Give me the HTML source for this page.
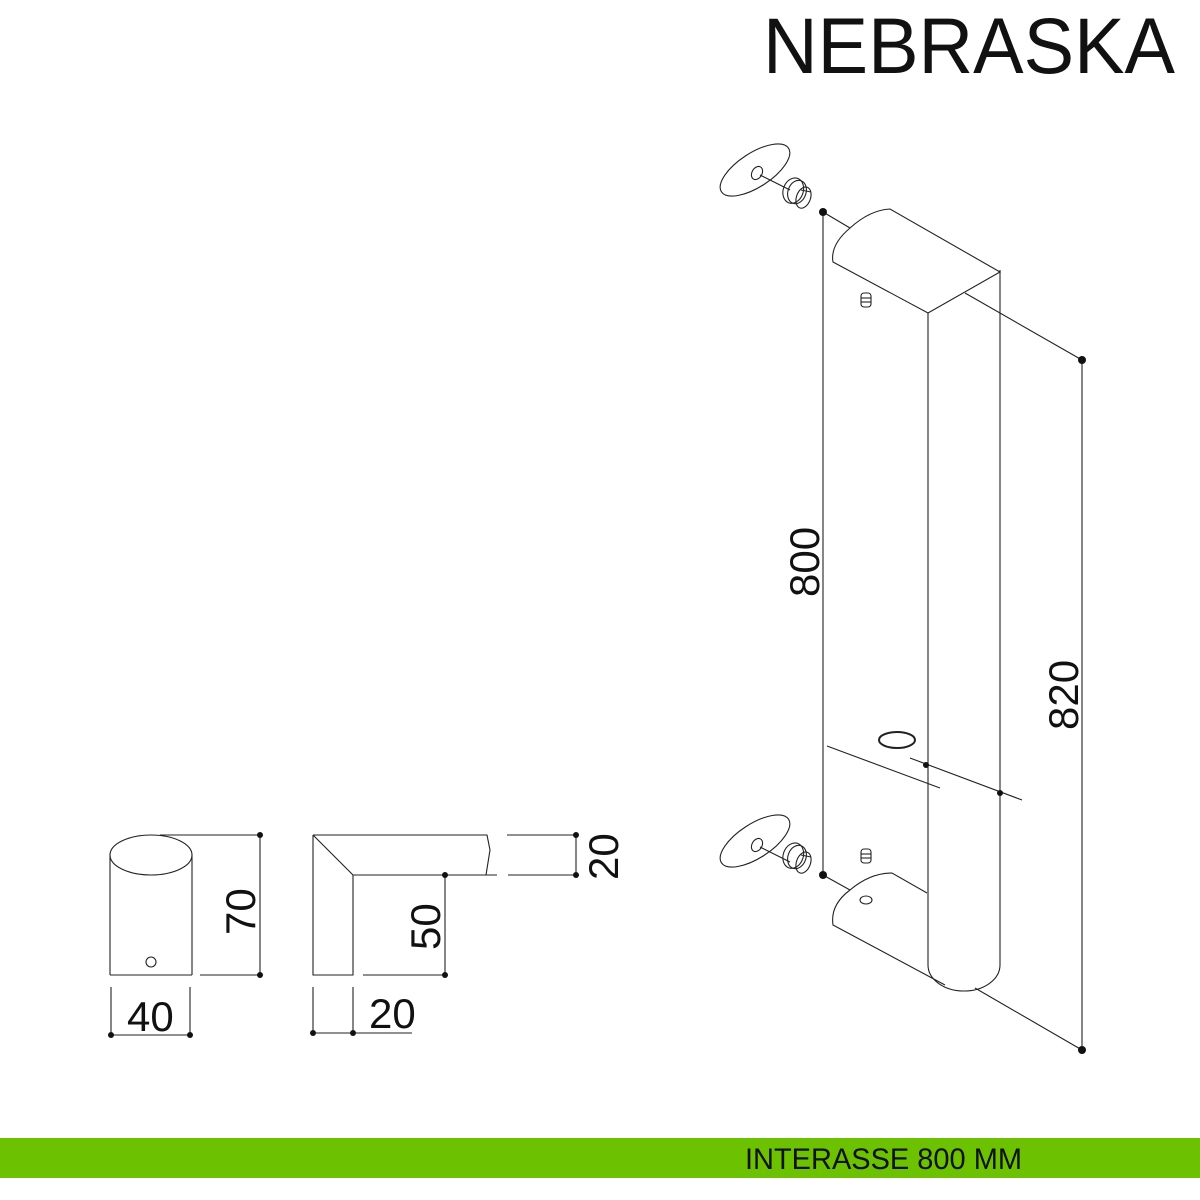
<!DOCTYPE html>
<html><head><meta charset="utf-8"><style>
html,body{margin:0;padding:0;background:#fff}
svg{display:block}
text{font-family:"Liberation Sans",sans-serif;fill:#111}
</style></head><body>
<svg width="1200" height="1200" viewBox="0 0 1200 1200" xmlns="http://www.w3.org/2000/svg">
<text x="763" y="73" font-size="79" textLength="412" lengthAdjust="spacingAndGlyphs">NEBRASKA</text>
<rect x="0" y="1138" width="1200" height="40" fill="#6cc200"/>
<text x="745" y="1169" font-size="30" textLength="277" lengthAdjust="spacingAndGlyphs">INTERASSE 800 MM</text>

<g fill="none" stroke="#222" stroke-width="1.1">
<!-- handle top cap -->
<path d="M850,228 Q830,245 833,262 L928,313 L1000,272 L890,209 Q870,210 850,228"/>
<line x1="928" y1="313" x2="928" y2="965"/>
<line x1="1000" y1="270" x2="1000" y2="965"/>
<path d="M928,965 A36,26 0 0 0 1000,965"/>
<!-- bottom cap -->
<path d="M927,893 L892,873 Q870,873 850,890 Q830,905 833,925 L945,985"/>
<ellipse cx="866" cy="900" rx="6" ry="4"/>
<!-- dimension lines -->
<line x1="823" y1="212" x2="823" y2="875"/>
<line x1="823" y1="212" x2="850" y2="228"/>
<line x1="965" y1="293" x2="1082" y2="360"/>
<line x1="1082" y1="360" x2="1082" y2="1050"/>
<line x1="975" y1="988" x2="1082" y2="1050"/>
<line x1="823" y1="875" x2="850" y2="890"/>
<line x1="827" y1="746" x2="940" y2="788"/>
<line x1="910" y1="758" x2="1022" y2="800"/>
<ellipse cx="897" cy="740" rx="18" ry="8" stroke-width="2"/>
<!-- washers -->
<ellipse cx="755" cy="170" rx="40" ry="17" transform="rotate(-33 755 170)"/>
<ellipse cx="757" cy="173" rx="5" ry="7" transform="rotate(30 757 173)"/>
<line x1="760" y1="175" x2="790" y2="190"/>
<ellipse cx="755" cy="841" rx="40" ry="17" transform="rotate(-33 755 841)"/>
<ellipse cx="757" cy="845" rx="5" ry="7" transform="rotate(30 757 845)"/>
<line x1="760" y1="847" x2="790" y2="862"/>
<!-- bushings -->
<g transform="translate(797,192)"><ellipse cx="-4" cy="0" rx="10" ry="13" transform="rotate(20)"/><ellipse cx="0" cy="0" rx="9" ry="12" transform="rotate(20)"/><ellipse cx="8" cy="3" rx="7" ry="11" transform="rotate(20)"/><line x1="4" y1="-2" x2="14" y2="0"/></g>
<g transform="translate(797,857)"><ellipse cx="-4" cy="0" rx="10" ry="13" transform="rotate(20)"/><ellipse cx="0" cy="0" rx="9" ry="12" transform="rotate(20)"/><ellipse cx="8" cy="3" rx="7" ry="11" transform="rotate(20)"/><line x1="4" y1="-2" x2="14" y2="0"/></g>
<!-- grub screws -->
<g transform="translate(866,300)"><rect x="-5" y="-7" width="10" height="14" rx="3"/><line x1="-5" y1="-2" x2="5" y2="-2"/><line x1="-5" y1="2" x2="5" y2="2"/></g>
<g transform="translate(866,856)"><rect x="-5" y="-7" width="10" height="14" rx="3"/><line x1="-5" y1="-2" x2="5" y2="-2"/><line x1="-5" y1="2" x2="5" y2="2"/></g>

<!-- cylinder -->
<ellipse cx="151" cy="855" rx="41" ry="20"/>
<line x1="110" y1="855" x2="110" y2="975"/>
<line x1="192" y1="855" x2="192" y2="975"/>
<line x1="110" y1="975" x2="192" y2="975"/>
<circle cx="151" cy="962" r="5"/>
<line x1="160" y1="835" x2="260" y2="835"/>
<line x1="260" y1="835" x2="260" y2="975"/>
<line x1="200" y1="975" x2="260" y2="975"/>
<line x1="111" y1="987" x2="111" y2="1035"/>
<line x1="190" y1="987" x2="190" y2="1035"/>
<line x1="111" y1="1035" x2="190" y2="1035"/>
<!-- profile -->
<path d="M313,835 L487,835 L490,850 L486,875 M353,875 L497,875 M313,835 L353,875 M313,835 L313,975 L353,975 L353,875"/>
<line x1="363" y1="975" x2="445" y2="975"/>
<line x1="445" y1="875" x2="445" y2="975"/>
<line x1="507" y1="835" x2="576" y2="835"/>
<line x1="508" y1="875" x2="576" y2="875"/>
<line x1="576" y1="835" x2="576" y2="875"/>
<line x1="313" y1="987" x2="313" y2="1033"/>
<line x1="353" y1="987" x2="353" y2="1033"/>
<line x1="313" y1="1033" x2="412" y2="1033"/>
</g>
<g fill="#111">
<circle cx="823" cy="212" r="4"/><circle cx="823" cy="875" r="4"/>
<circle cx="1082" cy="360" r="4"/><circle cx="1082" cy="1050" r="4"/>
<circle cx="926" cy="765" r="3"/><circle cx="1000" cy="793" r="3"/>
<circle cx="260" cy="835" r="3"/><circle cx="260" cy="975" r="3"/>
<circle cx="111" cy="1035" r="3"/><circle cx="190" cy="1035" r="3"/>
<circle cx="445" cy="875" r="3"/><circle cx="445" cy="975" r="3"/>
<circle cx="576" cy="835" r="3"/><circle cx="576" cy="875" r="3"/>
<circle cx="313" cy="1033" r="3"/><circle cx="353" cy="1033" r="3"/>
</g>
<g font-size="42">
<text transform="translate(819,597) rotate(-90)">800</text>
<text transform="translate(1078,730) rotate(-90)">820</text>
<text transform="translate(255,935) rotate(-90)">70</text>
<text transform="translate(440,950) rotate(-90)">50</text>
<text transform="translate(618,880) rotate(-90)">20</text>
<text x="127" y="1031">40</text>
<text x="369" y="1028">20</text>
</g>
</svg>
</body></html>
